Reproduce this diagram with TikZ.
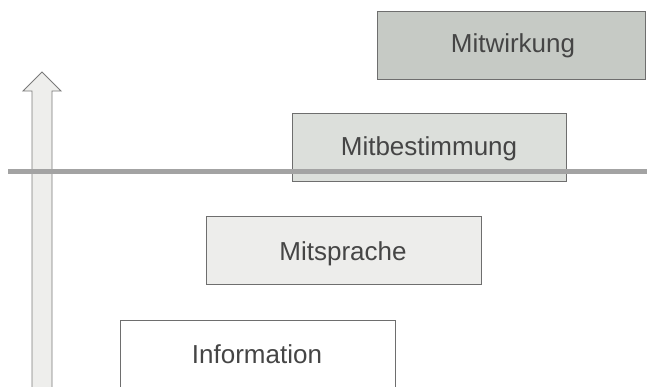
\documentclass[tikz,border=0pt]{standalone}
\usepackage{fontspec}
\setmainfont{Liberation Sans}
\definecolor{txt}{HTML}{454545}
\definecolor{edge}{HTML}{6E6E6E}
\definecolor{fillA}{HTML}{EDEDEB}
\definecolor{fillB}{HTML}{DCDFDB}
\definecolor{fillC}{HTML}{C6CAC5}
\definecolor{linecol}{HTML}{A3A3A3}
\definecolor{arrowfill}{HTML}{EEEEEC}
\definecolor{arrowedge}{HTML}{7A7A7A}
\begin{document}
\begin{tikzpicture}[x=1pt,y=-1pt,
  stage/.style={draw=edge,line width=0.9pt,inner sep=0pt,anchor=north west},
  label/.style={text=txt,font=\fontsize{26}{30}\selectfont,anchor=base,inner sep=0pt}]
\useasboundingbox (0,0) rectangle (650,386);
\clip (0,0) rectangle (650,386);
% upward arrow
\draw[arrowedge,fill=arrowfill,line width=0.9pt]
  (32,400) -- (32,91) -- (23,91) -- (42,72) -- (61,91) -- (52,91) -- (52,400) -- cycle;
% boxes
\node[stage,fill=white,minimum width=275pt,minimum height=90pt] (info) at (120,320) {};
\node[stage,fill=fillA,minimum width=275pt,minimum height=68pt] (spr) at (206,216) {};
\node[stage,fill=fillB,minimum width=274pt,minimum height=68pt] (best) at (292,113) {};
\node[stage,fill=fillC,minimum width=268pt,minimum height=68pt] (wirk) at (377,11) {};
% texts
\node[label] (tinfo) at (257,363) {Information};
\node[label] (tspr) at (343,260) {Mitsprache};
\node[label] (tbest) at (429,155) {Mitbestimmung};
\node[label] (twirk) at (513,52) {Mitwirkung};
% horizontal line
\coordinate (hl) at (8,171);
\coordinate (hr) at (647,171);
\draw[linecol,line width=5pt] (hl) -- (hr);
\end{tikzpicture}
\end{document}
